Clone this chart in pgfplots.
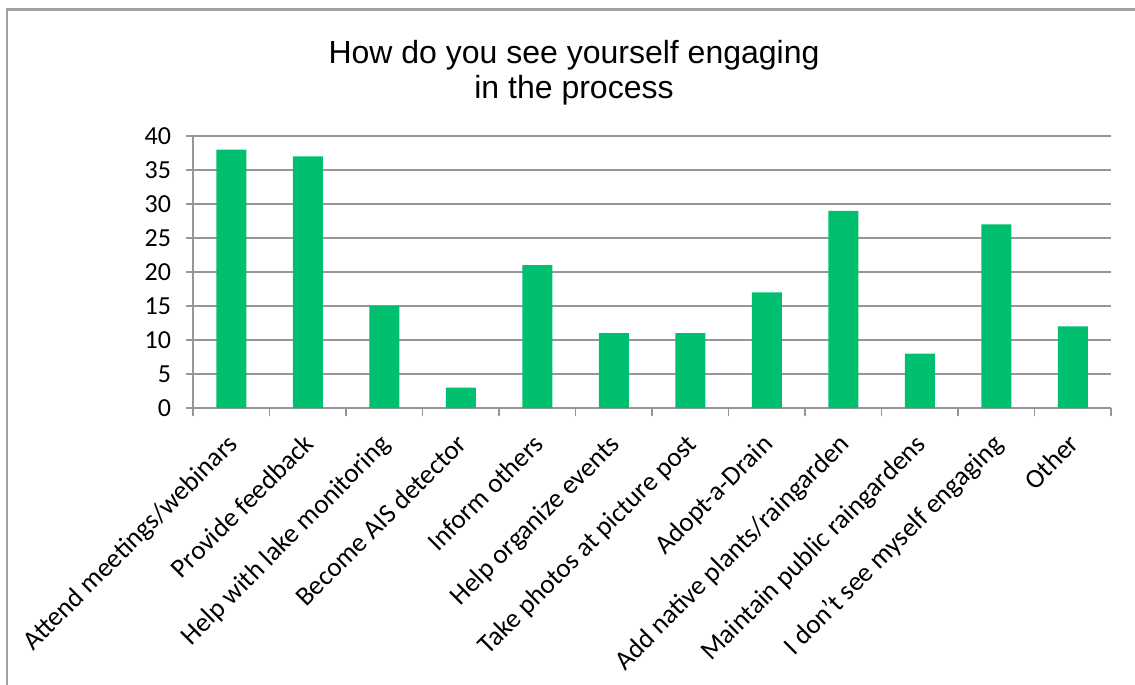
\documentclass[border=0pt]{standalone}
\usepackage{pgfplots}
\pgfplotsset{compat=1.18}
\usepackage{fontspec}
\setmainfont{Carlito}
\newfontfamily\arialfont{Liberation Sans}
\definecolor{bargreen}{RGB}{0,191,111}
\definecolor{gridgray}{RGB}{150,150,150}
\definecolor{framegray}{RGB}{160,160,160}
\begin{document}
\begin{tikzpicture}
\useasboundingbox (0,0) rectangle (567.5pt,342.5pt);
\draw[framegray, line width=1.2pt] (3.5pt,-2pt) -- (3.5pt,337.75pt) -- (570pt,337.75pt);
\node[font=\arialfont\fontsize{16}{17.5}\selectfont, align=center, anchor=north] at (287pt,326pt) {How do you see yourself engaging\\in the process};
\begin{axis}[
  at={(96.5pt,138.5pt)}, anchor=south west,
  scale only axis, width=459pt, height=136pt,
  ymin=0, ymax=40, ytick={0,5,...,40},
  xmin=-0.5, xmax=11.5,
  xtick={0,...,11},
  xticklabels={Attend meetings/webinars, Provide feedback, Help with lake monitoring, Become AIS detector, Inform others, Help organize events, Take photos at picture post, Adopt-a-Drain, Add native plants/raingarden, Maintain public raingardens, I don’t see myself engaging, Other},
  minor xtick={-0.5,0.5,...,11.5},
  major x tick style={draw=none},
  minor tick length=4pt,
  major tick length=3.5pt,
  tick align=outside,
  axis lines*=left,
  axis line style={-, gridgray, line width=0.6pt},
  every tick/.style={gridgray, line width=0.6pt},
  ymajorgrids, grid style={gridgray, line width=0.6pt},
  tick label style={font=\fontsize{13}{15}\selectfont},
  /pgf/number format/assume math mode=true,
  xticklabel style={rotate=45, anchor=north east, font=\fontsize{13.5}{15}\selectfont, inner sep=1pt, xshift=-7pt, yshift=-3pt},
  yticklabel style={xshift=-4pt},
  ybar, bar width=15pt,
]
\addplot[fill=bargreen, draw=none] coordinates {
(0,38) (1,37) (2,15) (3,3) (4,21) (5,11) (6,11) (7,17) (8,29) (9,8) (10,27) (11,12)};
\end{axis}
\end{tikzpicture}
\end{document}
